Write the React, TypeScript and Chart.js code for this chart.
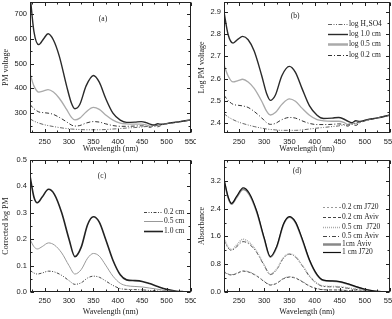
import React, { useEffect, useRef } from "react";
import { Chart, registerables } from "chart.js";
Chart.register(...registerables);

// ---------- data ----------
const wlAB = [220, 228, 238, 248, 257, 268, 280, 295, 305, 312, 322, 335, 350, 362, 375, 390, 405, 418, 435, 448, 458, 466, 474, 482, 490, 505, 525, 550];
const pmH2SO4 = [277, 268, 260, 254, 250, 246, 242, 238, 236, 235, 234, 233, 233, 233, 234, 236, 238, 240, 242, 244, 246, 246, 249, 251, 254, 259, 265, 273];
const pm10 = [780, 630, 576, 600, 620, 595, 530, 410, 340, 318, 335, 410, 452, 425, 360, 300, 272, 263, 264, 266, 262, 256, 252, 257, 255, 260, 265, 273];
const pm05 = [460, 410, 385, 390, 395, 385, 360, 315, 283, 273, 280, 305, 323, 315, 293, 272, 260, 257, 256, 256, 253, 248, 252, 249, 254, 260, 265, 273];
const pm02 = [335, 318, 305, 302, 300, 295, 283, 265, 252, 248, 250, 260, 266, 264, 257, 250, 247, 247, 248, 249, 247, 243, 248, 245, 252, 259, 265, 273];

const logH2SO4 = [2.442, 2.428, 2.415, 2.405, 2.398, 2.391, 2.384, 2.377, 2.373, 2.371, 2.369, 2.367, 2.367, 2.367, 2.369, 2.373, 2.377, 2.38, 2.384, 2.387, 2.391, 2.391, 2.396, 2.4, 2.405, 2.413, 2.423, 2.436];
const log10cm = [2.9, 2.8, 2.76, 2.778, 2.79, 2.775, 2.724, 2.613, 2.531, 2.502, 2.525, 2.613, 2.655, 2.628, 2.556, 2.477, 2.435, 2.42, 2.422, 2.425, 2.418, 2.408, 2.401, 2.41, 2.407, 2.415, 2.423, 2.436];
const log05cm = [2.662, 2.613, 2.585, 2.591, 2.597, 2.585, 2.556, 2.498, 2.452, 2.436, 2.447, 2.484, 2.509, 2.498, 2.467, 2.435, 2.415, 2.41, 2.408, 2.408, 2.403, 2.394, 2.401, 2.396, 2.405, 2.415, 2.423, 2.436];
const log02cm = [2.525, 2.502, 2.484, 2.48, 2.477, 2.47, 2.452, 2.423, 2.401, 2.394, 2.398, 2.415, 2.425, 2.422, 2.41, 2.398, 2.393, 2.393, 2.394, 2.396, 2.393, 2.386, 2.394, 2.389, 2.401, 2.413, 2.423, 2.436];

const wlCD = [220, 228, 235, 245, 258, 270, 285, 300, 312, 325, 338, 350, 362, 375, 390, 405, 418, 435, 450, 465, 480, 500, 520, 535, 550];
const corr02 = [0.082, 0.072, 0.068, 0.072, 0.079, 0.076, 0.063, 0.043, 0.029, 0.035, 0.053, 0.06, 0.056, 0.042, 0.025, 0.013, 0.01, 0.009, 0.008, 0.006, 0.004, 0.002, 0.001, 0, 0];
const corr05 = [0.2, 0.172, 0.163, 0.172, 0.186, 0.178, 0.148, 0.1, 0.068, 0.085, 0.128, 0.146, 0.136, 0.102, 0.06, 0.033, 0.024, 0.021, 0.019, 0.015, 0.011, 0.005, 0.002, 0.001, 0];
const corr10 = [0.44, 0.36, 0.338, 0.36, 0.389, 0.37, 0.3, 0.2, 0.134, 0.17, 0.255, 0.285, 0.265, 0.2, 0.12, 0.065, 0.046, 0.043, 0.04, 0.032, 0.022, 0.01, 0.003, 0.001, 0];

const abs02J720 = [0.6, 0.52, 0.5, 0.54, 0.61, 0.58, 0.47, 0.31, 0.21, 0.26, 0.39, 0.44, 0.41, 0.31, 0.18, 0.1, 0.07, 0.065, 0.06, 0.045, 0.033, 0.015, 0.005, 0.001, 0];
const abs02Aviv = [0.58, 0.51, 0.49, 0.53, 0.6, 0.57, 0.46, 0.3, 0.2, 0.25, 0.38, 0.43, 0.4, 0.3, 0.17, 0.09, 0.065, 0.06, 0.055, 0.042, 0.03, 0.013, 0.004, 0.001, 0];
const abs05J720 = [1.55, 1.3, 1.22, 1.35, 1.52, 1.43, 1.17, 0.78, 0.52, 0.66, 0.98, 1.1, 1.02, 0.78, 0.46, 0.25, 0.17, 0.16, 0.15, 0.12, 0.085, 0.04, 0.012, 0.004, 0];
const abs05Aviv = [1.5, 1.27, 1.2, 1.3, 1.45, 1.38, 1.14, 0.76, 0.5, 0.65, 0.97, 1.09, 1.01, 0.77, 0.45, 0.24, 0.16, 0.15, 0.14, 0.11, 0.08, 0.035, 0.01, 0.003, 0];
const abs1Aviv = [3.22, 2.72, 2.53, 2.72, 2.95, 2.81, 2.3, 1.53, 1.0, 1.3, 1.93, 2.15, 2.0, 1.53, 0.91, 0.49, 0.33, 0.31, 0.29, 0.23, 0.16, 0.075, 0.022, 0.006, 0];
const abs1J720 = [3.25, 2.75, 2.55, 2.75, 3.0, 2.85, 2.33, 1.55, 1.02, 1.32, 1.95, 2.17, 2.02, 1.55, 0.92, 0.5, 0.34, 0.32, 0.3, 0.24, 0.17, 0.08, 0.025, 0.008, 0];

const xTicks = [250, 300, 350, 400, 450, 500, 550];
const yTicksA = [300, 400, 500, 600, 700];
const yTicksB = [2.4, 2.5, 2.6, 2.7, 2.8, 2.9];
const yTicksC = [0, 0.1, 0.2, 0.3, 0.4, 0.5];
const yTicksD = [0, 0.8, 1.6, 2.4, 3.2];

// ---------- plugins ----------
const SERIF = "'Liberation Serif', 'DejaVu Serif', serif";
const SANS = "'Liberation Sans', Arial, sans-serif";
const INK = "#222";

const framePlugin = {
  id: "frame",
  afterDatasetsDraw(chart: any, _args: any, opts: any) {
    const { ctx, chartArea: a, scales } = chart;
    const sx = scales.x, sy = scales.y;
    ctx.save();
    ctx.strokeStyle = INK;
    ctx.lineWidth = 1;
    const L = Math.round(a.left) + 0.5, R = Math.round(a.right) - 0.5;
    const T = Math.round(a.top) + 0.5, B = Math.round(a.bottom) - 0.5;
    ctx.strokeRect(L, T, R - L, B - T);
    const line = (x1: number, y1: number, x2: number, y2: number) => {
      ctx.beginPath(); ctx.moveTo(x1, y1); ctx.lineTo(x2, y2); ctx.stroke();
    };
    const eps = 1e-6;
    const xMaj = (opts.xMajor || []) as number[];
    const yMaj = (opts.yMajor || []) as number[];
    for (let v = Math.ceil(sx.min / opts.xMinor - eps) * opts.xMinor; v <= sx.max + eps; v += opts.xMinor) {
      const major = xMaj.some((m) => Math.abs(m - v) < eps);
      const len = major ? 3.5 : 2;
      const px = Math.round(sx.getPixelForValue(v)) + 0.5;
      line(px, B, px, B - len);
      line(px, T, px, T + len);
    }
    for (let v = Math.ceil(sy.min / opts.yMinor - eps) * opts.yMinor; v <= sy.max + eps; v += opts.yMinor) {
      const major = yMaj.some((m) => Math.abs(m - v) < eps);
      const len = major ? 3.5 : 2;
      const py = Math.round(sy.getPixelForValue(v)) + 0.5;
      line(L, py, L + len, py);
      line(R, py, R - len, py);
    }
    ctx.restore();
  },
};

const legendPlugin = {
  id: "inlegend",
  afterDraw(chart: any, _args: any, opts: any) {
    if (!opts || !opts.ys) return;
    const { ctx } = chart;
    ctx.save();
    ctx.font = `${opts.size || 7.5}px ${SERIF}`;
    ctx.textBaseline = "middle";
    ctx.textAlign = "left";
    chart.data.datasets.forEach((ds: any, i: number) => {
      const y = opts.ys[i];
      if (y === undefined) return;
      ctx.strokeStyle = ds.borderColor;
      ctx.lineWidth = ds.legendWidth || ds.borderWidth;
      ctx.setLineDash(ds.borderDash || []);
      ctx.beginPath();
      ctx.moveTo(opts.x, y + 0.5);
      ctx.lineTo(opts.x + opts.len, y + 0.5);
      ctx.stroke();
      ctx.setLineDash([]);
      ctx.fillStyle = INK;
      ctx.fillText(ds.label, opts.x + opts.len + 1, y + 0.5);
    });
    ctx.restore();
  },
};

const panelLabelPlugin = {
  id: "panelLabel",
  afterDraw(chart: any, _args: any, opts: any) {
    if (!opts || !opts.text) return;
    const { ctx } = chart;
    ctx.save();
    ctx.font = `7.5px ${SERIF}`;
    ctx.fillStyle = INK;
    ctx.textAlign = "center";
    ctx.textBaseline = "middle";
    ctx.fillText(opts.text, opts.x, opts.y);
    ctx.restore();
  },
};

const zeroPad = (s: any) => {
  s.paddingTop = 0;
  s.paddingBottom = 0;
  s.paddingLeft = 0;
  s.paddingRight = 0;
};

// ---------- config builder ----------
type Series = { label: string; wl: number[]; values: number[]; color: string; width: number; dash?: number[]; legendWidth?: number; order?: number };

function buildConfig(p: {
  series: Series[];
  ymin: number; ymax: number; yTicks: number[]; yMinor: number; yTitle: string;
  yWidth: number; xHeight: number; padding: any; decimals: number;
  legend?: any; label: any;
}) {
  return {
    type: "line",
    data: {
      datasets: p.series.map((s) => ({
        label: s.label,
        data: s.wl.map((w, i) => ({ x: w, y: s.values[i] })),
        borderColor: s.color,
        borderWidth: s.width,
        borderDash: s.dash || [],
        legendWidth: s.legendWidth,
        order: s.order ?? 1,
        pointRadius: 0,
        fill: false,
        cubicInterpolationMode: "monotone",
      })),
    },
    options: {
      responsive: false,
      animation: false,
      devicePixelRatio: 1,
      layout: { padding: p.padding },
      plugins: {
        legend: { display: false },
        tooltip: { enabled: false },
        frame: { xMinor: 25, xMajor: xTicks, yMinor: p.yMinor, yMajor: p.yTicks },
        inlegend: p.legend,
        panelLabel: p.label,
      },
      scales: {
        x: {
          type: "linear",
          min: 220,
          max: 550,
          grid: { display: false, drawTicks: false },
          border: { display: false },
          afterBuildTicks: (s: any) => { s.ticks = xTicks.map((v) => ({ value: v })); },
          afterFit: (s: any) => { s.height = p.xHeight; zeroPad(s); },
          ticks: { color: INK, font: { family: SANS, size: 7.5 }, padding: 4, maxRotation: 0, autoSkip: false, callback: (v: any) => String(v) },
          title: { display: true, text: "Wavelength (nm)", color: INK, font: { family: SERIF, size: 8 }, padding: { top: 0, bottom: 2 } },
        },
        y: {
          type: "linear",
          min: p.ymin,
          max: p.ymax,
          grid: { display: false, drawTicks: false },
          border: { display: false },
          afterBuildTicks: (s: any) => { s.ticks = p.yTicks.map((v) => ({ value: v })); },
          afterFit: (s: any) => { s.width = p.yWidth; zeroPad(s); },
          ticks: { color: INK, font: { family: SANS, size: 7.5 }, padding: 3, autoSkip: false, callback: (v: any) => Number(v).toFixed(p.decimals) },
          title: { display: true, text: p.yTitle, color: INK, font: { family: SERIF, size: 8 }, padding: { top: 1, bottom: 0 } },
        },
      },
    },
    plugins: [framePlugin, legendPlugin, panelLabelPlugin],
  };
}

const configA = () => buildConfig({
  series: [
    { label: "H2SO4", wl: wlAB, values: pmH2SO4, color: "#666", width: 1, dash: [4, 1.5, 1, 1.5, 1, 1.5] },
    { label: "1.0 cm", wl: wlAB, values: pm10, color: "#2a2a2a", width: 1.4 },
    { label: "0.5 cm", wl: wlAB, values: pm05, color: "#aaa", width: 1.3 },
    { label: "0.2 cm", wl: wlAB, values: pm02, color: "#333", width: 1, dash: [4, 2, 1, 2] },
  ],
  ymin: 220, ymax: 748, yTicks: yTicksA, yMinor: 50, yTitle: "PM voltage",
  yWidth: 30, xHeight: 23, padding: { top: 2, right: 5, left: 0, bottom: 0 }, decimals: 0,
  label: { text: "(a)", x: 103, y: 19 },
});

const configB = () => buildConfig({
  series: [
    { label: "log H\u2082SO4", wl: wlAB, values: logH2SO4, color: "#666", width: 1, dash: [4, 1.5, 1, 1.5, 1, 1.5] },
    { label: "log 1.0 cm", wl: wlAB, values: log10cm, color: "#2a2a2a", width: 1.4 },
    { label: "log 0.5 cm", wl: wlAB, values: log05cm, color: "#aaa", width: 1.3, legendWidth: 2.5 },
    { label: "log 0.2 cm", wl: wlAB, values: log02cm, color: "#333", width: 1, dash: [4, 2, 1, 2] },
  ],
  ymin: 2.355, ymax: 2.945, yTicks: yTicksB, yMinor: 0.05, yTitle: "Log PM voltage",
  yWidth: 28, xHeight: 23, padding: { top: 2, right: 2, left: 0, bottom: 0 }, decimals: 1,
  legend: { x: 132, len: 20, ys: [24, 34, 44, 55] },
  label: { text: "(b)", x: 99, y: 16 },
});

const configC = () => buildConfig({
  series: [
    { label: "0.2 cm", wl: wlCD, values: corr02, color: "#444", width: 1, dash: [3, 1.5, 1, 1.5, 1, 1.5] },
    { label: "0.5 cm", wl: wlCD, values: corr05, color: "#999", width: 1 },
    { label: "1.0 cm", wl: wlCD, values: corr10, color: "#222", width: 1.6 },
  ],
  ymin: 0, ymax: 0.5, yTicks: yTicksC, yMinor: 0.05, yTitle: "Corrected log PM",
  yWidth: 30, xHeight: 27, padding: { top: 4, right: 5, left: 0, bottom: 0 }, decimals: 1,
  legend: { x: 144, len: 19, ys: [56, 65, 75] },
  label: { text: "(c)", x: 102, y: 20 },
});

const configD = () => buildConfig({
  series: [
    { label: "0.2 cm J720", wl: wlCD, values: abs02J720, color: "#999", width: 1, dash: [2, 2] },
    { label: "0.2 cm Aviv", wl: wlCD, values: abs02Aviv, color: "#444", width: 1, dash: [3, 2] },
    { label: "0.5 cm  J720", wl: wlCD, values: abs05J720, color: "#aaa", width: 1.5, dash: [1, 1] },
    { label: "0.5 cm Aviv", wl: wlCD, values: abs05Aviv, color: "#444", width: 1, dash: [4, 2, 1, 2] },
    { label: "1cm Aviv", wl: wlCD, values: abs1Aviv, color: "#888", width: 1.6, legendWidth: 2.5, order: 2 },
    { label: "1 cm J720", wl: wlCD, values: abs1J720, color: "#111", width: 1.2, order: 0 },
  ],
  ymin: 0, ymax: 3.8, yTicks: yTicksD, yMinor: 0.4, yTitle: "Absorbance",
  yWidth: 28, xHeight: 27, padding: { top: 4, right: 2, left: 0, bottom: 0 }, decimals: 1,
  legend: { x: 127, len: 18, ys: [51, 61, 71, 80, 88, 96] },
  label: { text: "(d)", x: 101, y: 15 },
});

function Panel(props: { make: () => any; left: number; top: number; width: number; height: number }) {
  const ref = useRef<HTMLCanvasElement | null>(null);
  useEffect(() => {
    const chart = new Chart(ref.current as HTMLCanvasElement, props.make());
    return () => chart.destroy();
  }, []);
  return (
    <canvas
      ref={ref}
      width={props.width}
      height={props.height}
      style={{ position: "absolute", left: props.left, top: props.top, width: props.width, height: props.height }}
    />
  );
}

export default function App() {
  return (
    <div style={{ position: "fixed", left: 0, top: 0, width: 392, height: 319, background: "#fff", overflow: "hidden" }}>
      <Panel make={configA} left={0} top={0} width={196} height={156} />
      <Panel make={configB} left={196} top={0} width={196} height={156} />
      <Panel make={configC} left={0} top={156} width={196} height={163} />
      <Panel make={configD} left={196} top={156} width={196} height={163} />
    </div>
  );
}
